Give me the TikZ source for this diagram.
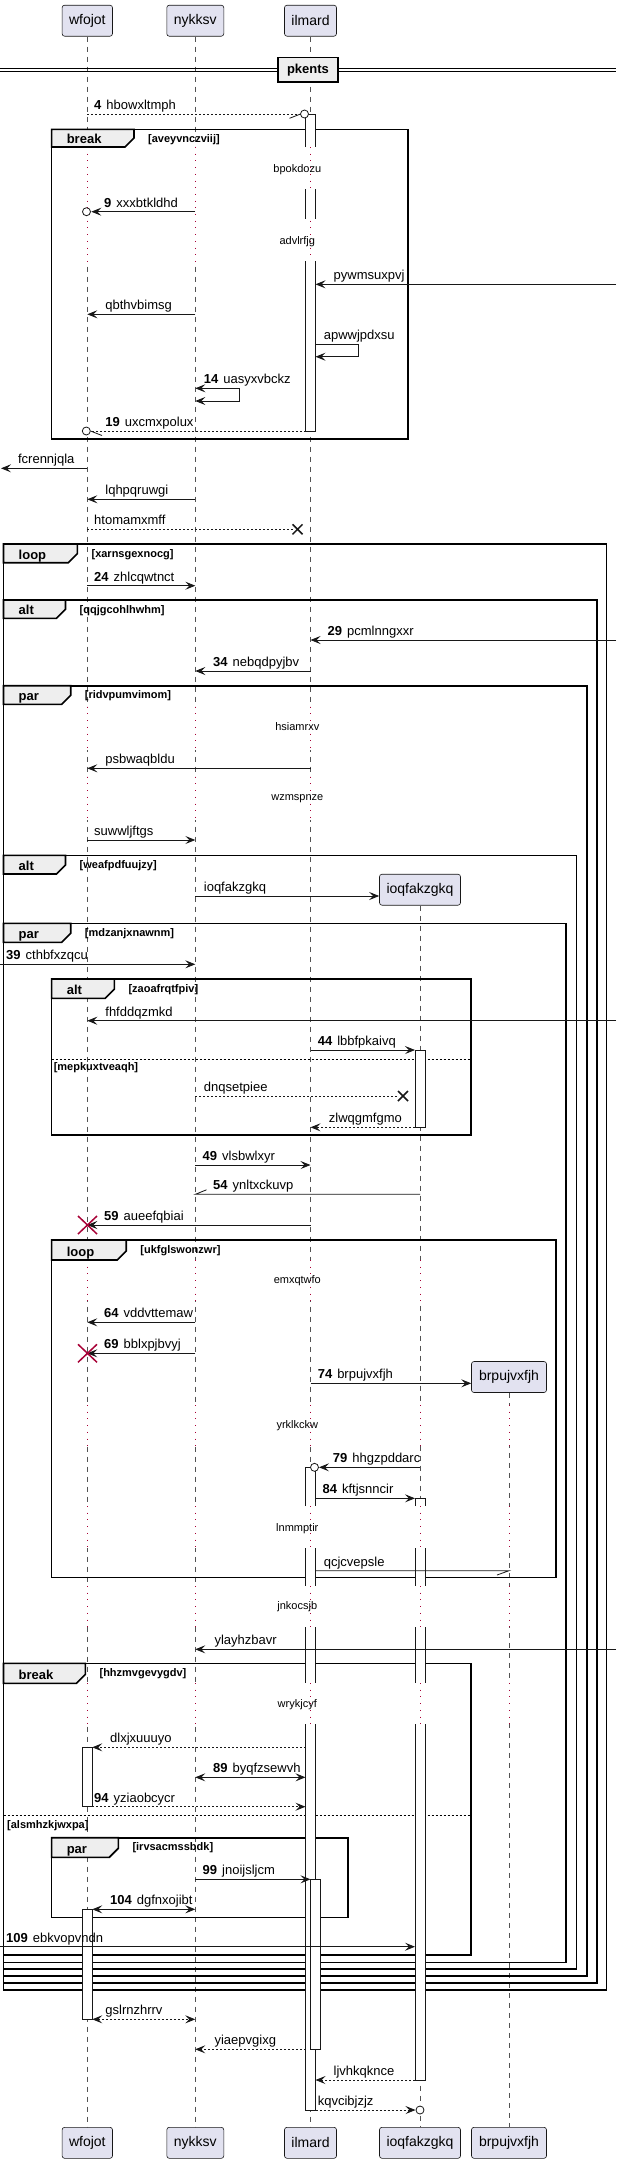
\documentclass[tikz,border=0pt]{standalone}
\usepackage{fontspec}
\setmainfont{Liberation Sans}
\usetikzlibrary{arrows.meta}
\definecolor{partfill}{HTML}{E2E2F0}
\definecolor{linec}{HTML}{181818}
\definecolor{tabfill}{HTML}{EEEEEE}
\definecolor{dotc}{HTML}{A80036}
\newcommand\fmsg{\fontsize{13}{15}\selectfont}
\newcommand\fdel{\fontsize{11}{13}\selectfont}
\newcommand\fpart{\fontsize{14}{16}\selectfont}
\newcommand\fkey{\fontsize{13}{15}\selectfont\bfseries}
\newcommand\fcond{\fontsize{11}{13}\selectfont\bfseries}
\newcommand\mnum[1]{\textbf{#1}\hspace{5pt}}
\def\xW{87.3}
\def\xN{195.3}
\def\xI{310.5}
\def\xQ{420}
\def\xB{509}
% frame tab: x1 y1 x2 y2 keyword condition
\newcommand\ftab[6]{%
  \draw[frm,fill=tabfill] (#1,#2) -- (#3,#2) -- (#3,#4-9) -- (#3-9,#4) -- (#1,#4) -- cycle;
  \node[ktxt] at (#1+15,#4-3.5) {#5};
  \node[ctxt] at (#3+14,#2+13) {#6};}
% activation pieces: x1 x2 y1 y2
\newcommand\actT[4]{\fill[white] (#1,#3) rectangle (#2,#4); \draw[msg] (#1,#4) -- (#1,#3) -- (#2,#3) -- (#2,#4);}
\newcommand\actM[4]{\fill[white] (#1,#3) rectangle (#2,#4); \draw[msg] (#1,#3) -- (#1,#4) (#2,#3) -- (#2,#4);}
\newcommand\actB[4]{\fill[white] (#1,#3) rectangle (#2,#4); \draw[msg] (#1,#3) -- (#1,#4) -- (#2,#4) -- (#2,#3);}
\newcommand\actF[4]{\draw[msg,fill=white] (#1,#3) rectangle (#2,#4);}
% dotted lifeline piece: x y1 y2
\newcommand\dseg[3]{\draw[lifeclear] (#1,#2) -- (#1,#3); \draw[lifedot] (#1,#2) -- (#1,#3);}
\begin{document}
\begin{tikzpicture}[x=1pt,y=-1pt,
  >={Stealth[length=10pt,width=8pt,inset=4pt]},
  part/.style={draw=linec,fill=partfill,rounded corners=2.5pt,line width=0.6pt,inner sep=0pt,font=\fpart},
  life/.style={draw=linec!75,line width=0.6pt,dash pattern=on 5pt off 5pt},
  lifedot/.style={draw=dotc,line width=0.9pt,dash pattern=on 1pt off 5.7pt},
  lifeclear/.style={draw=white,line width=2.5pt},
  msg/.style={draw=linec,line width=0.8pt},
  dmsg/.style={msg,dash pattern=on 2pt off 2pt},
  frm/.style={draw=black,line width=1.6pt},
  sep/.style={draw=black,line width=0.8pt,dash pattern=on 2pt off 2pt},
  mtxt/.style={anchor=base west,inner sep=0pt,font=\fmsg,text=black},
  dtxt/.style={anchor=center,inner sep=0pt,font=\fdel,text=black},
  ktxt/.style={anchor=base west,inner sep=0pt,font=\fkey},
  ctxt/.style={anchor=base west,inner sep=0pt,font=\fcond},
  xmark/.style={draw=linec,line width=1.5pt},
  rxmark/.style={draw=dotc,line width=1.5pt},
  openc/.style={draw=linec,line width=0.8pt,fill=white},
]
\useasboundingbox (0,0) rectangle (616,2164);
\fill[white] (0,0) rectangle (616,2164);

% ---------------- participants
\node[part,minimum width=50.4pt,minimum height=31pt] (wfT) at (\xW,20.7) {wfojot};
\node[part,minimum width=57pt,minimum height=31pt] (nyT) at (\xN,20.7) {nykksv};
\node[part,minimum width=52pt,minimum height=31pt] (ilT) at (\xI,20.7) {ilmard};
\node[part,minimum width=81pt,minimum height=31pt] (ioT) at (\xQ,889.7) {ioqfakzgkq};
\node[part,minimum width=75pt,minimum height=31pt] (brT) at (\xB,1377) {brpujvxfjh};
\node[part,minimum width=50.4pt,minimum height=31pt] (wfB) at (\xW,2142.8) {wfojot};
\node[part,minimum width=57pt,minimum height=31pt] (nyB) at (\xN,2142.8) {nykksv};
\node[part,minimum width=52pt,minimum height=31pt] (ilB) at (\xI,2142.8) {ilmard};
\node[part,minimum width=81pt,minimum height=31pt] (ioB) at (\xQ,2142.8) {ioqfakzgkq};
\node[part,minimum width=75pt,minimum height=31pt] (brB) at (\xB,2142.8) {brpujvxfjh};

% ---------------- lifelines
\draw[life] (wfT) -- (wfB);
\draw[life] (nyT) -- (nyB);
\draw[life] (ilT) -- (ilB);
\draw[life] (ioT) -- (ioB);
\draw[life] (brT) -- (brB);

% delays (dotted lifelines)
\foreach \x in {\xW,\xN,\xI} {\dseg{\x}{147}{261}}
\foreach \x in {\xW,\xN,\xI} {\dseg{\x}{706.7}{750}\dseg{\x}{776.7}{820}}
\foreach \x in {\xW,\xN,\xI,\xQ} {\dseg{\x}{1260}{1301}}
\foreach \x in {\xW,\xN,\xI,\xQ,\xB} {\dseg{\x}{1405}{1446}\dseg{\x}{1506}{1548}\dseg{\x}{1586}{1627}\dseg{\x}{1683}{1724}}

% ---------------- divider
\draw[draw=black,line width=0.9pt] (0,68.3) -- (616,68.3) (0,71.7) -- (616,71.7);
\node[draw=black,line width=1.6pt,fill=tabfill,minimum width=60pt,minimum height=24.7pt,inner sep=0pt,font=\fkey] (div) at (308,69.7) {pkents};

% ---------------- frames
\draw[frm] (51.6,129.3) rectangle (407.7,439);
\ftab{51.6}{129.3}{134}{147}{break}{[aveyvnczviij]}
\draw[frm] (3.5,544) rectangle (606.6,1990);
\ftab{3.5}{544}{77.4}{562.7}{loop}{[xarnsgexnocg]}
\draw[frm] (3.5,600) rectangle (597,1983);
\ftab{3.5}{600}{65.5}{618.3}{alt}{[qqjgcohlhwhm]}
\draw[frm] (3.5,685.7) rectangle (586.8,1976);
\ftab{3.5}{685.7}{70.7}{704.3}{par}{[ridvpumvimom]}
\draw[frm] (3.5,855.3) rectangle (576.4,1969);
\ftab{3.5}{855.3}{65.5}{874}{alt}{[weafpdfuujzy]}
\draw[frm] (3.5,923.3) rectangle (565.7,1962.3);
\ftab{3.5}{923.3}{70.7}{942.3}{par}{[mdzanjxnawnm]}
\draw[frm] (51.6,979) rectangle (471.2,1135);
\ftab{51.6}{979}{114.3}{998.3}{alt}{[zaoafrqtfpiv]}
\draw[sep] (51.6,1059.3) -- (471.2,1059.3);
\node[ctxt] at (53.6,1070) {[mepkuxtveaqh]};
\draw[frm] (51.6,1240) rectangle (555.8,1577.3);
\ftab{51.6}{1240}{126.2}{1260}{loop}{[ukfglswonzwr]}
\draw[frm] (3.5,1663.3) rectangle (471.2,1955);
\ftab{3.5}{1663.3}{85.4}{1683.3}{break}{[hhzmvgevygdv]}
\draw[sep] (3.5,1815.7) -- (471.2,1815.7);
\node[ctxt] at (7,1828) {[alsmhzkjwxpa]};
\draw[frm] (51.6,1837.7) rectangle (347.8,1917.3);
\ftab{51.6}{1837.7}{118.3}{1857.3}{par}{[irvsacmssbdk]}

% ---------------- activations
\actT{305.5}{315.5}{114}{147}
\actM{305.5}{315.5}{189}{219}
\actB{305.5}{315.5}{261}{431}
\actF{415}{425}{1050}{1127.3}
\actT{305.5}{315.5}{1467.3}{1506}
\actM{305.5}{315.5}{1548}{1586}
\actM{305.5}{315.5}{1627}{1683}
\actB{305.5}{315.5}{1724}{2110}
\actT{415}{425}{1498.3}{1506}
\actM{415}{425}{1548}{1586}
\actM{415}{425}{1627}{1683}
\actB{415}{425}{1724}{2080}
\actF{310.5}{320.5}{1879.3}{2049.3}
\actF{82.3}{92.3}{1747.3}{1806.7}
\actF{82.3}{92.3}{1909.3}{2019.3}

% ---------------- messages
\coordinate (m4a) at (\xW,114); \coordinate (m4b) at (300.5,114);
\draw[dmsg] (m4a) -- (m4b); \draw[msg] (289.5,118.3) -- (m4b);
\draw[openc] (304.5,114) circle (4pt);
\node[mtxt] at (94,109.5) {\mnum{4}hbowxltmph};
\node[dtxt] at (297.3,169.3) {bpokdozu};
\coordinate (m9a) at (\xN,211.7); \coordinate (m9b) at (91.3,211.7);
\draw[msg,->] (m9a) -- (m9b); \draw[openc] (86.5,211.7) circle (4pt);
\node[mtxt] at (104,207.2) {\mnum{9}xxxbtkldhd};
\node[dtxt] at (297.3,241.7) {advlrfjg};
\coordinate (m10a) at (616,284.3); \coordinate (m10b) at (315.5,284.3);
\draw[msg,->] (m10a) -- (m10b);
\node[mtxt] at (333.5,279.8) {pywmsuxpvj};
\coordinate (m11a) at (\xN,314.3); \coordinate (m11b) at (\xW,314.3);
\draw[msg,->] (m11a) -- (m11b);
\node[mtxt] at (105.2,309.8) {qbthvbimsg};
\coordinate (m12a) at (315.5,344.3); \coordinate (m12b) at (315.5,356.7);
\draw[msg,->] (m12a) -- (358.5,344.3) -- (358.5,356.7) -- (m12b);
\node[mtxt] at (323.6,339.8) {apwwjpdxsu};
\coordinate (m14a) at (\xN,388.3); \coordinate (m14b) at (\xN,401);
\draw[msg,<->] (m14a) -- (239,388.3) -- (239,401) -- (m14b);
\node[mtxt] at (203.7,383.8) {\mnum{14}uasyxvbckz};
\coordinate (m19a) at (305.5,431); \coordinate (m19b) at (90.5,431);
\draw[dmsg] (m19a) -- (m19b); \draw[msg] (m19b) -- (102,435.5);
\draw[openc] (86.3,431) circle (4pt);
\node[mtxt] at (105.2,426.5) {\mnum{19}uxcmxpolux};
\coordinate (m20a) at (\xW,468.3); \coordinate (m20b) at (1,468.3);
\draw[msg,->] (m20a) -- (m20b);
\node[mtxt] at (17.9,463.8) {fcrennjqla};
\coordinate (m21a) at (\xN,499.3); \coordinate (m21b) at (\xW,499.3);
\draw[msg,->] (m21a) -- (m21b);
\node[mtxt] at (105.2,494.8) {lqhpqruwgi};
\coordinate (m22a) at (\xW,529.3); \coordinate (m22b) at (293,529.3);
\draw[dmsg] (m22a) -- (m22b);
\draw[xmark] (292.5,524.3) -- (302.5,534.3) (292.5,534.3) -- (302.5,524.3);
\node[mtxt] at (94,524.8) {htomamxmff};
\coordinate (m24a) at (\xW,585.7); \coordinate (m24b) at (\xN,585.7);
\draw[msg,->] (m24a) -- (m24b);
\node[mtxt] at (94,581.2) {\mnum{24}zhlcqwtnct};
\coordinate (m29a) at (616,640); \coordinate (m29b) at (\xI,640);
\draw[msg,->] (m29a) -- (m29b);
\node[mtxt] at (327.5,635.5) {\mnum{29}pcmlnngxxr};
\coordinate (m34a) at (\xI,671); \coordinate (m34b) at (\xN,671);
\draw[msg,->] (m34a) -- (m34b);
\node[mtxt] at (213,666.5) {\mnum{34}nebqdpyjbv};
\node[dtxt] at (297.3,726.7) {hsiamrxv};
\coordinate (m35a) at (\xI,768.3); \coordinate (m35b) at (\xW,768.3);
\draw[msg,->] (m35a) -- (m35b);
\node[mtxt] at (105.2,763.8) {psbwaqbldu};
\node[dtxt] at (297.3,799) {wzmspnze};
\coordinate (m36a) at (\xW,840); \coordinate (m36b) at (\xN,840);
\draw[msg,->] (m36a) -- (m36b);
\node[mtxt] at (94,835.5) {suwwljftgs};
\coordinate (m37a) at (\xN,896);
\draw[msg,->] (m37a) -- (ioT.west |- m37a);
\node[mtxt] at (203.7,891.5) {ioqfakzgkq};
\coordinate (m39a) at (0,964.3); \coordinate (m39b) at (\xN,964.3);
\draw[msg,->] (m39a) -- (m39b);
\node[mtxt] at (6,959.8) {\mnum{39}cthbfxzqcu};
\coordinate (m40a) at (616,1020.7); \coordinate (m40b) at (\xW,1020.7);
\draw[msg,->] (m40a) -- (m40b);
\node[mtxt] at (105.2,1016.2) {fhfddqzmkd};
\coordinate (m44a) at (\xI,1050); \coordinate (m44b) at (415,1050);
\draw[msg,->] (m44a) -- (m44b);
\node[mtxt] at (317.6,1045.5) {\mnum{44}lbbfpkaivq};
\coordinate (m45a) at (\xN,1096); \coordinate (m45b) at (398,1096);
\draw[dmsg] (m45a) -- (m45b);
\draw[xmark] (398,1091) -- (408,1101) (398,1101) -- (408,1091);
\node[mtxt] at (203.7,1091.5) {dnqsetpiee};
\coordinate (m46a) at (415,1127.3); \coordinate (m46b) at (\xI,1127.3);
\draw[dmsg,->] (m46a) -- (m46b);
\node[mtxt] at (328.7,1122.8) {zlwqgmfgmo};
\coordinate (m49a) at (\xN,1165); \coordinate (m49b) at (\xI,1165);
\draw[msg,->] (m49a) -- (m49b);
\node[mtxt] at (202.5,1160.5) {\mnum{49}vlsbwlxyr};
\coordinate (m54a) at (\xQ,1194.3); \coordinate (m54b) at (\xN,1194.3);
\draw[msg] (m54a) -- (m54b) -- (206.5,1189.8);
\node[mtxt] at (213,1189.8) {\mnum{54}ynltxckuvp};
\coordinate (m59a) at (\xI,1225); \coordinate (m59b) at (\xW,1225);
\draw[msg,->] (m59a) -- (m59b);
\draw[rxmark] (78,1216) -- (97,1234) (78,1234) -- (97,1216);
\node[mtxt] at (104,1220.5) {\mnum{59}aueefqbiai};
\node[dtxt] at (297.3,1280.7) {emxqtwfo};
\coordinate (m64a) at (\xN,1322.3); \coordinate (m64b) at (\xW,1322.3);
\draw[msg,->] (m64a) -- (m64b);
\node[mtxt] at (104,1317.8) {\mnum{64}vddvttemaw};
\coordinate (m69a) at (\xN,1353.3); \coordinate (m69b) at (\xW,1353.3);
\draw[msg,->] (m69a) -- (m69b);
\draw[rxmark] (78,1344.3) -- (97,1362.3) (78,1362.3) -- (97,1344.3);
\node[mtxt] at (104,1348.8) {\mnum{69}bblxpjbvyj};
\coordinate (m74a) at (\xI,1383.3);
\draw[msg,->] (m74a) -- (brT.west |- m74a);
\node[mtxt] at (317.6,1378.8) {\mnum{74}brpujvxfjh};
\node[dtxt] at (297.3,1425.7) {yrklkckw};
\coordinate (m79a) at (\xQ,1467.3); \coordinate (m79b) at (319,1467.3);
\draw[msg,->] (m79a) -- (m79b); \draw[openc] (314.5,1467.3) circle (4pt);
\node[mtxt] at (332.7,1462.8) {\mnum{79}hhgzpddarc};
\coordinate (m84a) at (315.5,1498.3); \coordinate (m84b) at (415,1498.3);
\draw[msg,->] (m84a) -- (m84b);
\node[mtxt] at (322.4,1493.8) {\mnum{84}kftjsnncir};
\node[dtxt] at (297.3,1528.3) {lnmmptir};
\coordinate (m85a) at (315.5,1570.7); \coordinate (m85b) at (\xB,1570.7);
\draw[msg] (m85a) -- (m85b) -- (497,1575);
\node[mtxt] at (323.6,1566.2) {qcjcvepsle};
\node[dtxt] at (297.3,1606.7) {jnkocsjb};
\coordinate (m86a) at (616,1649.3); \coordinate (m86b) at (\xN,1649.3);
\draw[msg,->] (m86a) -- (m86b);
\node[mtxt] at (214.4,1644.8) {ylayhzbavr};
\node[dtxt] at (297.3,1705) {wrykjcyf};
\coordinate (m87a) at (305.5,1747.3); \coordinate (m87b) at (92.3,1747.3);
\draw[dmsg,->] (m87a) -- (m87b);
\node[mtxt] at (110,1742.8) {dlxjxuuuyo};
\coordinate (m89a) at (\xN,1777.3); \coordinate (m89b) at (305.5,1777.3);
\draw[msg,<->] (m89a) -- (m89b);
\node[mtxt] at (213,1772.8) {\mnum{89}byqfzsewvh};
\coordinate (m94a) at (92.3,1806.7); \coordinate (m94b) at (305.5,1806.7);
\draw[dmsg,->] (m94a) -- (m94b);
\node[mtxt] at (94,1802.2) {\mnum{94}yziaobcycr};
\coordinate (m99a) at (\xN,1879.3); \coordinate (m99b) at (\xI,1879.3);
\draw[msg,->] (m99a) -- (m99b);
\node[mtxt] at (202.5,1874.8) {\mnum{99}jnoijsljcm};
\coordinate (m104a) at (92.3,1909.3); \coordinate (m104b) at (\xN,1909.3);
\draw[msg,<->] (m104a) -- (m104b);
\node[mtxt] at (110,1904.8) {\mnum{104}dgfnxojibt};
\coordinate (m109a) at (0,1946.7); \coordinate (m109b) at (415,1946.7);
\draw[msg,->] (m109a) -- (m109b);
\node[mtxt] at (6,1942.2) {\mnum{109}ebkvopvndn};
\coordinate (m110a) at (92.3,2019.3); \coordinate (m110b) at (\xN,2019.3);
\draw[dmsg,<->] (m110a) -- (m110b);
\node[mtxt] at (105.2,2014.8) {gslrnzhrrv};
\coordinate (m111a) at (305.5,2049.3); \coordinate (m111b) at (\xN,2049.3);
\draw[dmsg,->] (m111a) -- (m111b);
\node[mtxt] at (214.4,2044.8) {yiaepvgixg};
\coordinate (m112a) at (415,2080); \coordinate (m112b) at (315.5,2080);
\draw[dmsg,->] (m112a) -- (m112b);
\node[mtxt] at (333.5,2075.5) {ljvhkqknce};
\coordinate (m113a) at (315.5,2110); \coordinate (m113b) at (415.5,2110);
\draw[dmsg,->] (m113a) -- (m113b); \draw[openc] (420,2110) circle (4pt);
\node[mtxt] at (317.6,2105.5) {kqvcibjzjz};
\end{tikzpicture}
\end{document}
